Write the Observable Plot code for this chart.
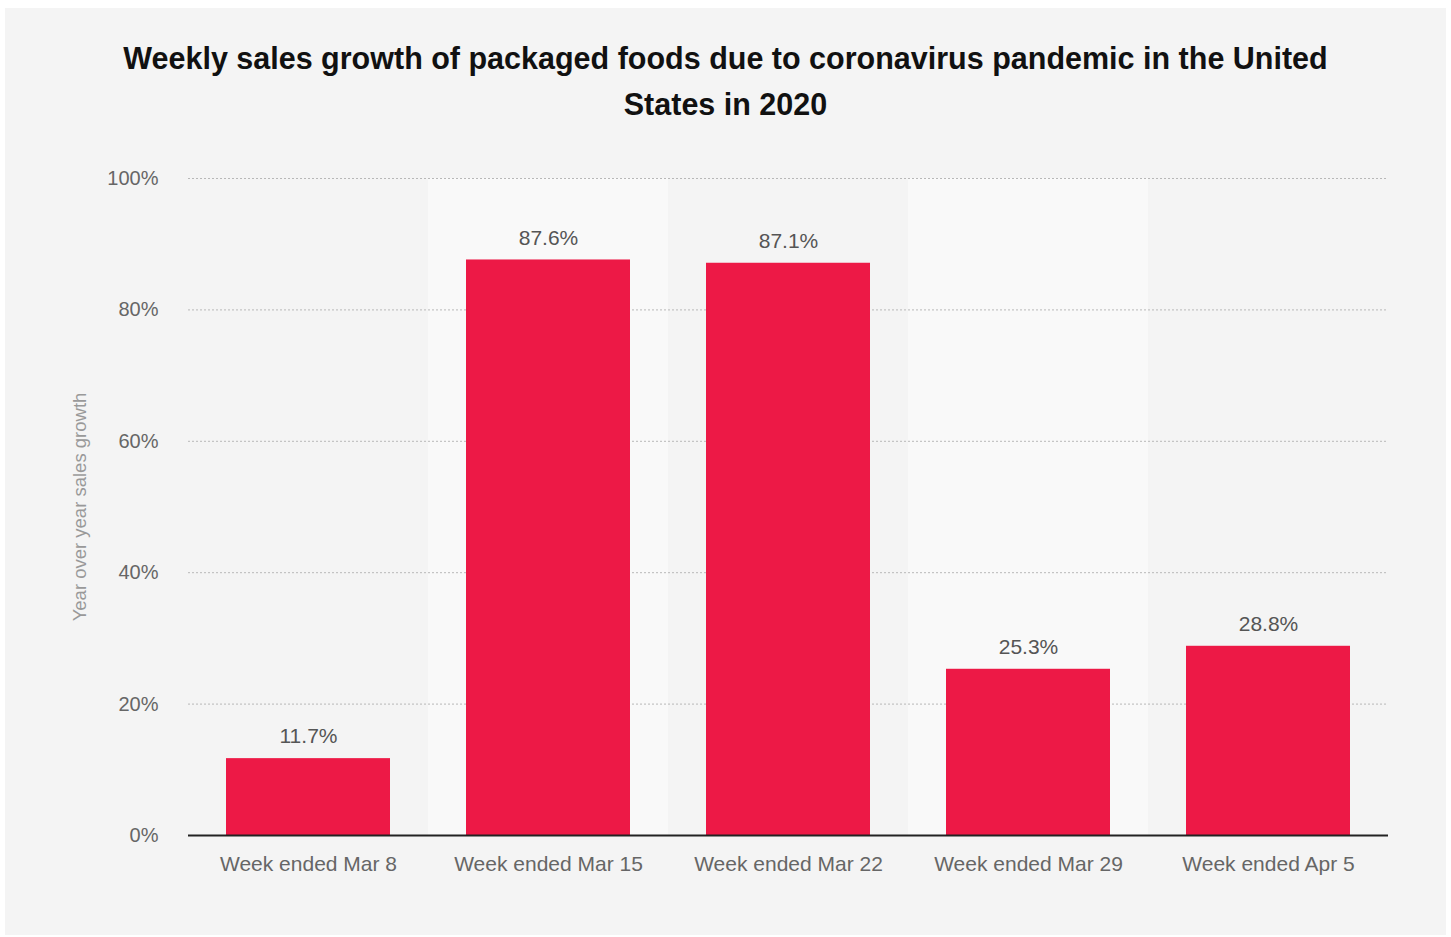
<!DOCTYPE html>
<html>
<head>
<meta charset="utf-8">
<script src="https://cdn.jsdelivr.net/npm/d3@7"></script>
<script src="https://cdn.jsdelivr.net/npm/@observablehq/plot@0.6"></script>
<style>
  html, body { margin: 0; padding: 0; background: #ffffff; }
  #panel {
    position: absolute; left: 5px; top: 8px; width: 1441px; height: 927px;
    background: #f4f4f4; font-family: "Helvetica Neue", Arial, "Liberation Sans", sans-serif;
  }
  #title {
    position: absolute; left: 0; top: 27px; width: 1441px; text-align: center;
    font-size: 30.5px; font-weight: bold; line-height: 46px; color: #111;
  }
  #chart { position: absolute; left: 0; top: 132px; }
</style>
</head>
<body>
<div id="panel">
  <div id="title">Weekly sales growth of packaged foods due to coronavirus pandemic in the United<br>States in 2020</div>
  <div id="chart"></div>
</div>
<script>
const weeks = ["Week ended Mar 8", "Week ended Mar 15", "Week ended Mar 22", "Week ended Mar 29", "Week ended Apr 5"];
const growth = [11.7, 87.6, 87.1, 25.3, 28.8];
const yTicks = [0, 20, 40, 60, 80, 100];
const shadedWeeks = [weeks[1], weeks[3]];
const yLabel = "Year over year sales growth";

const data = weeks.map((w, i) => ({week: w, value: growth[i]}));
const fmt = d => d + "%";
const font = "'Helvetica Neue', Arial, 'Liberation Sans', sans-serif";

const chart = Plot.plot({
  width: 1441,
  height: 760,
  marginLeft: 183,
  marginRight: 58,
  marginTop: 38,
  marginBottom: 65,
  style: {background: "transparent", fontFamily: font, overflow: "visible"},
  x: {domain: weeks, paddingInner: 0.317, paddingOuter: 0.1585, label: null},
  y: {domain: [0, 100], label: null},
  marks: [
    Plot.barY(shadedWeeks, {x: d => d, y1: 0, y2: 100, fill: "#f9f9f9", insetLeft: -38, insetRight: -38}),
    Plot.gridY(yTicks.filter(d => d > 0), {stroke: "#b8b8b8", strokeOpacity: 1, strokeWidth: 1, strokeDasharray: "2,2"}),
    Plot.barY(data, {x: "week", y: "value", fill: "#ed1946"}),
    Plot.text(data, {x: "week", y: "value", text: d => d.value.toFixed(1) + "%", dy: -22, fill: "#555", fontSize: 21, lineAnchor: "middle"}),
    Plot.ruleY([0], {stroke: "#222", strokeWidth: 2}),
    Plot.axisX({tickSize: 0, tickPadding: 21, fontSize: 21, fill: "#666", label: null}),
    Plot.axisY({ticks: yTicks, tickFormat: fmt, tickSize: 0, tickPadding: 30, fontSize: 20, fill: "#666", label: null}),
    Plot.text([yLabel], {frameAnchor: "left", text: d => d, rotate: -90, dx: -108, fontSize: 18.5, fill: "#999", textAnchor: "middle"})
  ]
});
document.getElementById("chart").appendChild(chart);
</script>
</body>
</html>
